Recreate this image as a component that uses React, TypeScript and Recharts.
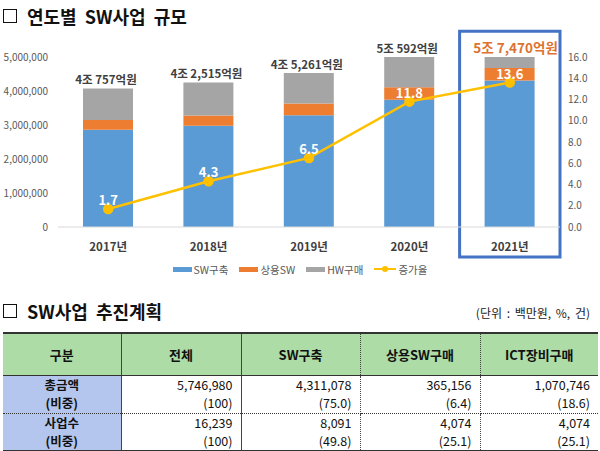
import React from 'react';
import {
  ComposedChart,
  Bar,
  Line,
  XAxis,
  YAxis,
  Legend,
  LabelList,
  ReferenceArea,
} from 'recharts';

const years = ['2017년', '2018년', '2019년', '2020년', '2021년'];
const swBuild = [2860000, 2980000, 3290000, 3740000, 4311078];
const commercialSw = [290000, 300000, 340000, 370000, 365156];
const hwPurchase = [925700, 971500, 896100, 949200, 1070746];
const growthRate = [1.7, 4.3, 6.5, 11.8, 13.6];
const totalLabels = ['4조 757억원', '4조 2,515억원', '4조 5,261억원', '5조 592억원', '5조 7,470억원'];
const seriesNames = ['SW구축', '상용SW', 'HW구매', '증가율'];
const leftTicks = [0, 1000000, 2000000, 3000000, 4000000, 5000000];
const rightTicks = [0, 2, 4, 6, 8, 10, 12, 14, 16];

const tableHeaders = ['구분', '전체', 'SW구축', '상용SW구매', 'ICT장비구매'];
const amountValues = [5746980, 4311078, 365156, 1070746];
const amountShares = ['(100)', '(75.0)', '(6.4)', '(18.6)'];
const countValues = [16239, 8091, 4074, 4074];
const countShares = ['(100)', '(49.8)', '(25.1)', '(25.1)'];

const colors = {
  sw: '#5B9BD5',
  commercial: '#ED7D31',
  hw: '#A5A5A5',
  rate: '#FFC000',
  box: '#4472C4',
};

const FONT = '"Noto Sans CJK KR", "Noto Sans", sans-serif';

const chartData = years.map((year, i) => ({
  year,
  sw: swBuild[i],
  commercial: commercialSw[i],
  hw: hwPurchase[i],
  rate: growthRate[i],
}));

const TotalLabel = (props: any) => {
  const { x, y, width, index } = props;
  const last = index === totalLabels.length - 1;
  return (
    <text
      x={x + width / 2 + (last ? 6 : -2)}
      y={y - 4}
      textAnchor="middle"
      fontSize={last ? 13.5 : 11.5}
      fontWeight={700}
      fill={last ? '#DD7230' : '#404040'}
      fontFamily={FONT}
    >
      {totalLabels[index]}
    </text>
  );
};

const LegendContent = () => {
  const swatches = [colors.sw, colors.commercial, colors.hw];
  return (
    <div
      style={{
        height: 20,
        display: 'flex',
        justifyContent: 'center',
        alignItems: 'center',
        gap: 11,
        fontSize: 10.5,
        color: '#595959',
        fontFamily: FONT,
      }}
    >
      {seriesNames.map((name, i) => (
        <div key={name} style={{ display: 'flex', alignItems: 'center', gap: 2 }}>
          {i < 3 ? (
            <span style={{ display: 'inline-block', width: 19, height: 5, background: swatches[i] }} />
          ) : (
            <svg width={22} height={10}>
              <line x1={0} y1={5} x2={22} y2={5} stroke={colors.rate} strokeWidth={2} />
              <circle cx={11} cy={5} r={3} fill={colors.rate} />
            </svg>
          )}
          <span>{name}</span>
        </div>
      ))}
    </div>
  );
};

const SectionTitle = ({ text, top }: { text: string; top: number }) => (
  <div
    style={{
      position: 'absolute',
      left: 3,
      top,
      display: 'flex',
      alignItems: 'center',
      fontFamily: FONT,
      fontWeight: 700,
      fontSize: 18,
      color: '#111',
      wordSpacing: 4,
    }}
  >
    <span
      style={{
        display: 'inline-block',
        width: 12,
        height: 12,
        border: '1.5px solid #111',
        marginRight: 10,
      }}
    />
    <span>{text}</span>
  </div>
);

const cellBase: React.CSSProperties = {
  padding: 0,
  fontSize: 12.5,
  color: '#111',
};

const App: React.FC = () => {
  const colWidths = [118, 120, 119, 120, 118];
  const solidV = '1px solid #444';
  const dottedV = '1px dotted #444';
  const rightBorder = (i: number) => (i < 2 ? solidV : i < 4 ? dottedV : 'none');

  const renderBodyRow = (
    label: string,
    values: number[],
    shares: string[],
    height: number,
    bottom: string
  ) => (
    <tr style={{ height }}>
      <td
        style={{
          ...cellBase,
          background: '#B4C6EE',
          textAlign: 'center',
          fontWeight: 700,
          lineHeight: '18px',
          borderRight: rightBorder(0),
          borderBottom: bottom,
        }}
      >
        <div>{label}</div>
        <div>(비중)</div>
      </td>
      {values.map((v, i) => (
        <td
          key={i}
          style={{
            ...cellBase,
            textAlign: 'right',
            paddingRight: 8,
            lineHeight: '18px',
            borderRight: rightBorder(i + 1),
            borderBottom: bottom,
          }}
        >
          <div>{v.toLocaleString('en-US')}</div>
          <div>{shares[i]}</div>
        </td>
      ))}
    </tr>
  );

  return (
    <div
      style={{
        position: 'absolute',
        left: 0,
        top: 0,
        width: 600,
        height: 451,
        background: '#fff',
        overflow: 'hidden',
        fontFamily: FONT,
      }}
    >
      <div style={{ position: 'absolute', left: 0, top: 0 }}>
        <ComposedChart
          width={600}
          height={285}
          data={chartData}
          margin={{ top: 57, right: 0, left: 0, bottom: 6 }}
        >
          <XAxis
            dataKey="year"
            height={32}
            axisLine={{ stroke: '#D9D9D9' }}
            tickLine={false}
            tickMargin={10}
            tick={{ fontSize: 11.5, fontWeight: 700, fill: '#404040', fontFamily: FONT }}
          />
          <YAxis
            yAxisId="left"
            width={58}
            domain={[0, 5000000]}
            allowDataOverflow
            ticks={leftTicks}
            axisLine={false}
            tickLine={false}
            tickMargin={4}
            tickFormatter={(v: number) => v.toLocaleString('en-US')}
            tick={{ fontSize: 10, fill: '#595959', fontFamily: FONT }}
          />
          <YAxis
            yAxisId="right"
            orientation="right"
            width={40}
            domain={[0, 16]}
            ticks={rightTicks}
            axisLine={false}
            tickLine={false}
            tickFormatter={(v: number) => v.toFixed(1)}
            tick={{ fontSize: 10, fill: '#595959', fontFamily: FONT }}
          />
          <Legend verticalAlign="bottom" height={20} content={<LegendContent />} />
          <ReferenceArea
            yAxisId="left"
            x1="2021년"
            x2="2021년"
            y1={-880000}
            y2={5760000}
            ifOverflow="visible"
            fill="none"
            fillOpacity={0}
            stroke={colors.box}
            strokeWidth={3}
          />
          <Bar yAxisId="left" dataKey="sw" name={seriesNames[0]} stackId="a" fill={colors.sw} barSize={50} isAnimationActive={false} />
          <Bar yAxisId="left" dataKey="commercial" name={seriesNames[1]} stackId="a" fill={colors.commercial} barSize={50} isAnimationActive={false} />
          <Bar
            yAxisId="left"
            dataKey="hw"
            name={seriesNames[2]}
            stackId="a"
            fill={colors.hw}
            barSize={50}
            isAnimationActive={false}
            label={<TotalLabel />}
          />
          <Line
            yAxisId="right"
            dataKey="rate"
            name={seriesNames[3]}
            stroke={colors.rate}
            strokeWidth={2.5}
            dot={{ r: 4, fill: colors.rate, stroke: colors.rate }}
            isAnimationActive={false}
          >
            <LabelList
              dataKey="rate"
              position="top"
              offset={4}
              fill="#fff"
              fontSize={13}
              fontWeight={700}
              fontFamily={FONT}
              formatter={(v: any) => Number(v).toFixed(1)}
            />
          </Line>
        </ComposedChart>
      </div>

      <SectionTitle text="연도별 SW사업 규모" top={3} />
      <SectionTitle text="SW사업 추진계획" top={298} />
      <div
        style={{
          position: 'absolute',
          right: 10,
          top: 304,
          fontSize: 12,
          color: '#222',
          wordSpacing: 2,
        }}
      >
        (단위 : 백만원, %, 건)
      </div>

      <table
        style={{
          position: 'absolute',
          left: 3,
          top: 332,
          width: 595,
          borderCollapse: 'collapse',
          tableLayout: 'fixed',
          fontFamily: FONT,
        }}
      >
        <colgroup>
          {colWidths.map((w, i) => (
            <col key={i} style={{ width: w }} />
          ))}
        </colgroup>
        <tbody>
          <tr style={{ height: 42 }}>
            {tableHeaders.map((h, i) => (
              <td
                key={h}
                style={{
                  ...cellBase,
                  fontSize: 13,
                  background: '#ADDCA6',
                  textAlign: 'center',
                  fontWeight: 700,
                  borderTop: '2px solid #333',
                  borderBottom: '1px solid #333',
                  borderRight: rightBorder(i),
                }}
              >
                {h}
              </td>
            ))}
          </tr>
          {renderBodyRow('총금액', amountValues, amountShares, 38, '1px dotted #333')}
          {renderBodyRow('사업수', countValues, countShares, 36, '2px solid #333')}
        </tbody>
      </table>
    </div>
  );
};

export default App;
